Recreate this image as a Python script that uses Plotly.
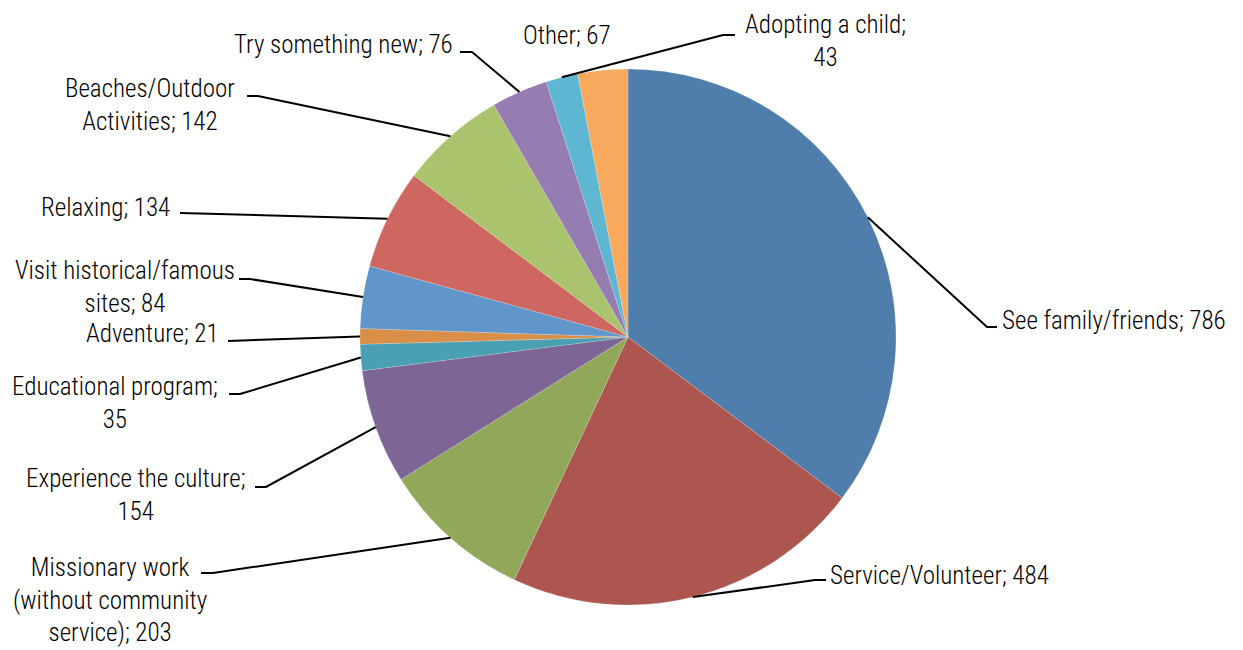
import math
import plotly.graph_objects as go

# ---- data ----
categories = [
    "See family/friends", "Service/Volunteer",
    "Missionary work (without community service)", "Experience the culture",
    "Educational program", "Adventure", "Visit historical/famous sites",
    "Relaxing", "Beaches/Outdoor Activities", "Try something new",
    "Adopting a child", "Other",
]
values = [786, 484, 203, 154, 35, 21, 84, 134, 142, 76, 43, 67]
label_texts = [
    "See family/friends; 786", "Service/Volunteer; 484",
    "Missionary work<br>(without community<br>service); 203",
    "Experience the culture;<br>154", "Educational program;<br>35",
    "Adventure; 21", "Visit historical/famous<br>sites; 84", "Relaxing; 134",
    "Beaches/Outdoor<br>Activities; 142", "Try something new; 76",
    "Adopting a child;<br>43", "Other; 67",
]
colors = ["#4F7EAD", "#AD5650", "#91A85A", "#7D6596", "#4A9FB2", "#D98F48",
          "#6196CB", "#CD6760", "#AAC36D", "#957CB1", "#5DB7D2", "#F8A95D"]

# ---- layout (pixels) ----
W, H = 1243, 650
CX, CY, R = 628, 337, 268
# label anchor (x, y, xanchor), elbow point (x, y) or None, line end
label_pos = [
    (1000, 320, "left", (987, 327), (997, 327)),
    (828, 575, "left", (815, 580), (826, 580)),
    (110, 600, "center", (213, 573), (201, 573)),
    (135, 495, "center", (266, 487), (255, 487)),
    (115, 403, "center", (240, 394), (229, 394)),
    (221, 333, "right", None, (228, 341)),
    (125, 287, "center", (250, 279), (239, 279)),
    (172, 207, "right", None, (180, 213)),
    (150, 105, "center", (258, 96), (247, 96)),
    (455, 44, "right", (472, 52), (460, 52)),
    (825, 41, "center", (723, 35), (735, 35)),
    (567, 36, "center", None, None),
]

FONT = "Liberation Sans Narrow, Arial Narrow, Roboto Condensed, Roboto, sans-serif"

fig = go.Figure(go.Pie(
    labels=categories, values=values, sort=False, direction="clockwise",
    rotation=0, textinfo="none", hoverinfo="label+value",
    marker=dict(colors=colors, line=dict(color="rgba(255,255,255,0.35)", width=0.5)),
    domain=dict(x=[(CX - R) / W, (CX + R) / W], y=[(H - CY - R) / H, (H - CY + R) / H]),
    showlegend=False,
))

def px(x):
    return x / W

def py(y):
    return 1 - y / H

total = sum(values)
cum = 0
annotations, shapes = [], []
for v, txt, (lx, ly, anchor, elbow, end) in zip(values, label_texts, label_pos):
    mid = (cum + v / 2) / total * 2 * math.pi
    cum += v
    ex = CX + R * math.sin(mid)
    ey = CY - R * math.cos(mid)
    annotations.append(dict(
        x=px(lx), y=py(ly), xref="paper", yref="paper", text=txt,
        showarrow=False, xanchor=anchor, yanchor="middle", align="center",
        font=dict(family=FONT, size=25, color="#000000", weight=300),
    ))
    if end is not None:
        pts = [(ex, ey)]
        if elbow is not None:
            pts.append(elbow)
        pts.append(end)
        path = "M " + " L ".join(f"{px(x):.5f},{py(y):.5f}" for x, y in pts)
        shapes.append(dict(type="path", xref="paper", yref="paper", path=path,
                           line=dict(color="#000000", width=2)))

fig.update_layout(
    width=W, height=H, margin=dict(l=0, r=0, t=0, b=0),
    paper_bgcolor="white", plot_bgcolor="white",
    annotations=annotations, shapes=shapes,
)
fig.write_html("out.html")
